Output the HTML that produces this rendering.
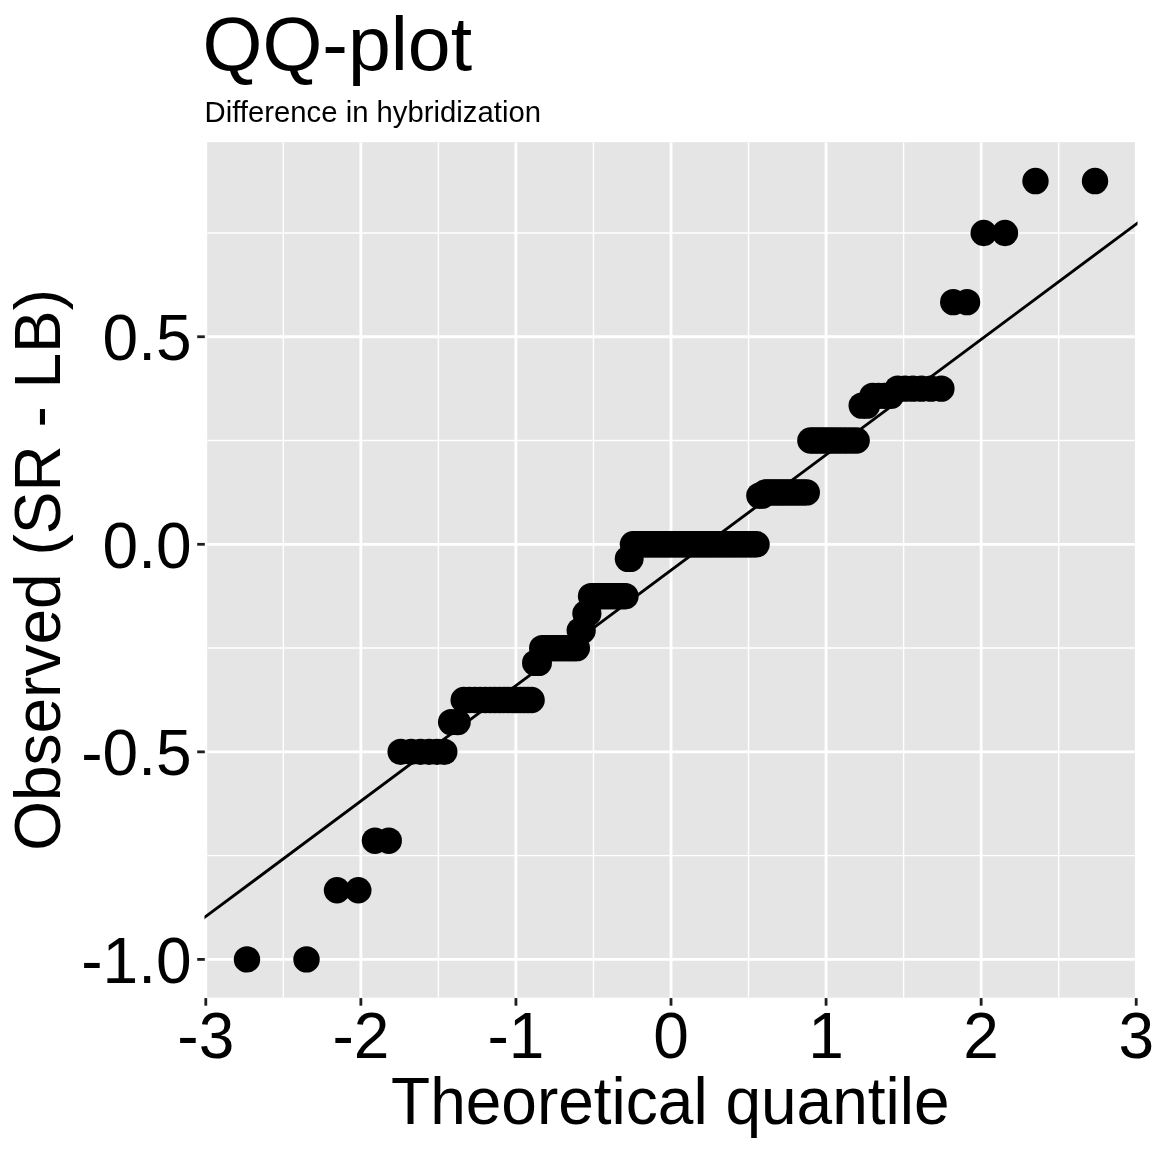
<!DOCTYPE html>
<html><head><meta charset="utf-8"><title>QQ-plot</title>
<style>
html,body{margin:0;padding:0;background:#FFFFFF;width:1152px;height:1152px;overflow:hidden;}
svg{display:block;-webkit-font-smoothing:antialiased;will-change:transform;}
text{font-variant-ligatures:none;font-kerning:normal;}
</style></head>
<body>
<svg width="1152" height="1152" viewBox="0 0 1152 1152"><defs><clipPath id="lc"><rect x="204.5" y="0" width="933" height="1152"/></clipPath><clipPath id="pc"><rect x="207.2" y="142.2" width="927.7" height="855.5"/></clipPath></defs><rect x="0" y="0" width="1152" height="1152" fill="#FFFFFF"/>
<rect x="207.2" y="142.2" width="927.7" height="855.5" fill="#E5E5E5"/>
<g clip-path="url(#pc)">
<line x1="283.33" y1="142.2" x2="283.33" y2="997.7" stroke="#FFFFFF" stroke-width="1.42"/>
<line x1="438.39" y1="142.2" x2="438.39" y2="997.7" stroke="#FFFFFF" stroke-width="1.42"/>
<line x1="593.47" y1="142.2" x2="593.47" y2="997.7" stroke="#FFFFFF" stroke-width="1.42"/>
<line x1="748.53" y1="142.2" x2="748.53" y2="997.7" stroke="#FFFFFF" stroke-width="1.42"/>
<line x1="903.61" y1="142.2" x2="903.61" y2="997.7" stroke="#FFFFFF" stroke-width="1.42"/>
<line x1="1058.67" y1="142.2" x2="1058.67" y2="997.7" stroke="#FFFFFF" stroke-width="1.42"/>
<line x1="207.2" y1="855.64" x2="1134.9" y2="855.64" stroke="#FFFFFF" stroke-width="1.42"/>
<line x1="207.2" y1="648.08" x2="1134.9" y2="648.08" stroke="#FFFFFF" stroke-width="1.42"/>
<line x1="207.2" y1="440.52" x2="1134.9" y2="440.52" stroke="#FFFFFF" stroke-width="1.42"/>
<line x1="207.2" y1="232.96" x2="1134.9" y2="232.96" stroke="#FFFFFF" stroke-width="1.42"/>
<line x1="360.86" y1="142.2" x2="360.86" y2="997.7" stroke="#FFFFFF" stroke-width="2.84"/>
<line x1="515.93" y1="142.2" x2="515.93" y2="997.7" stroke="#FFFFFF" stroke-width="2.84"/>
<line x1="671.00" y1="142.2" x2="671.00" y2="997.7" stroke="#FFFFFF" stroke-width="2.84"/>
<line x1="826.07" y1="142.2" x2="826.07" y2="997.7" stroke="#FFFFFF" stroke-width="2.84"/>
<line x1="981.14" y1="142.2" x2="981.14" y2="997.7" stroke="#FFFFFF" stroke-width="2.84"/>
<line x1="207.2" y1="959.42" x2="1134.9" y2="959.42" stroke="#FFFFFF" stroke-width="2.84"/>
<line x1="207.2" y1="751.86" x2="1134.9" y2="751.86" stroke="#FFFFFF" stroke-width="2.84"/>
<line x1="207.2" y1="544.30" x2="1134.9" y2="544.30" stroke="#FFFFFF" stroke-width="2.84"/>
<line x1="207.2" y1="336.74" x2="1134.9" y2="336.74" stroke="#FFFFFF" stroke-width="2.84"/>
</g>
<g fill="#000000"><circle cx="246.98" cy="959.42" r="13.2"/><circle cx="306.51" cy="959.42" r="13.2"/><circle cx="337.00" cy="890.22" r="13.2"/><circle cx="358.30" cy="890.22" r="13.2"/><circle cx="374.96" cy="840.70" r="13.2"/><circle cx="388.76" cy="840.70" r="13.2"/><circle cx="400.64" cy="751.86" r="13.2"/><circle cx="411.11" cy="751.86" r="13.2"/><circle cx="420.52" cy="751.86" r="13.2"/><circle cx="429.08" cy="751.86" r="13.2"/><circle cx="436.97" cy="751.86" r="13.2"/><circle cx="444.29" cy="751.86" r="13.2"/><circle cx="451.14" cy="722.10" r="13.2"/><circle cx="457.59" cy="722.10" r="13.2"/><circle cx="463.68" cy="699.97" r="13.2"/><circle cx="469.48" cy="699.97" r="13.2"/><circle cx="475.00" cy="699.97" r="13.2"/><circle cx="480.29" cy="699.97" r="13.2"/><circle cx="485.36" cy="699.97" r="13.2"/><circle cx="490.24" cy="699.97" r="13.2"/><circle cx="494.95" cy="699.97" r="13.2"/><circle cx="499.50" cy="699.97" r="13.2"/><circle cx="503.91" cy="699.97" r="13.2"/><circle cx="508.19" cy="699.97" r="13.2"/><circle cx="512.34" cy="699.97" r="13.2"/><circle cx="516.39" cy="699.97" r="13.2"/><circle cx="520.33" cy="699.97" r="13.2"/><circle cx="524.18" cy="699.97" r="13.2"/><circle cx="527.94" cy="699.97" r="13.2"/><circle cx="531.62" cy="699.97" r="13.2"/><circle cx="535.22" cy="662.90" r="13.2"/><circle cx="538.75" cy="662.90" r="13.2"/><circle cx="542.21" cy="648.08" r="13.2"/><circle cx="545.61" cy="648.08" r="13.2"/><circle cx="548.95" cy="648.08" r="13.2"/><circle cx="552.24" cy="648.08" r="13.2"/><circle cx="555.47" cy="648.08" r="13.2"/><circle cx="558.65" cy="648.08" r="13.2"/><circle cx="561.79" cy="648.08" r="13.2"/><circle cx="564.88" cy="648.08" r="13.2"/><circle cx="567.93" cy="648.08" r="13.2"/><circle cx="570.94" cy="648.08" r="13.2"/><circle cx="573.91" cy="648.08" r="13.2"/><circle cx="576.85" cy="648.08" r="13.2"/><circle cx="579.75" cy="630.60" r="13.2"/><circle cx="582.63" cy="630.60" r="13.2"/><circle cx="585.47" cy="613.50" r="13.2"/><circle cx="588.28" cy="613.50" r="13.2"/><circle cx="591.07" cy="596.19" r="13.2"/><circle cx="593.83" cy="596.19" r="13.2"/><circle cx="596.57" cy="596.19" r="13.2"/><circle cx="599.29" cy="596.19" r="13.2"/><circle cx="601.98" cy="596.19" r="13.2"/><circle cx="604.65" cy="596.19" r="13.2"/><circle cx="607.30" cy="596.19" r="13.2"/><circle cx="609.94" cy="596.19" r="13.2"/><circle cx="612.55" cy="596.19" r="13.2"/><circle cx="615.15" cy="596.19" r="13.2"/><circle cx="617.74" cy="596.19" r="13.2"/><circle cx="620.31" cy="596.19" r="13.2"/><circle cx="622.86" cy="596.19" r="13.2"/><circle cx="625.41" cy="596.19" r="13.2"/><circle cx="627.94" cy="558.83" r="13.2"/><circle cx="630.46" cy="558.83" r="13.2"/><circle cx="632.97" cy="544.30" r="13.2"/><circle cx="635.47" cy="544.30" r="13.2"/><circle cx="637.95" cy="544.30" r="13.2"/><circle cx="640.44" cy="544.30" r="13.2"/><circle cx="642.91" cy="544.30" r="13.2"/><circle cx="645.38" cy="544.30" r="13.2"/><circle cx="647.83" cy="544.30" r="13.2"/><circle cx="650.29" cy="544.30" r="13.2"/><circle cx="652.74" cy="544.30" r="13.2"/><circle cx="655.18" cy="544.30" r="13.2"/><circle cx="657.62" cy="544.30" r="13.2"/><circle cx="660.06" cy="544.30" r="13.2"/><circle cx="662.49" cy="544.30" r="13.2"/><circle cx="664.92" cy="544.30" r="13.2"/><circle cx="667.36" cy="544.30" r="13.2"/><circle cx="669.79" cy="544.30" r="13.2"/><circle cx="672.21" cy="544.30" r="13.2"/><circle cx="674.64" cy="544.30" r="13.2"/><circle cx="677.08" cy="544.30" r="13.2"/><circle cx="679.51" cy="544.30" r="13.2"/><circle cx="681.94" cy="544.30" r="13.2"/><circle cx="684.38" cy="544.30" r="13.2"/><circle cx="686.82" cy="544.30" r="13.2"/><circle cx="689.26" cy="544.30" r="13.2"/><circle cx="691.71" cy="544.30" r="13.2"/><circle cx="694.17" cy="544.30" r="13.2"/><circle cx="696.62" cy="544.30" r="13.2"/><circle cx="699.09" cy="544.30" r="13.2"/><circle cx="701.56" cy="544.30" r="13.2"/><circle cx="704.05" cy="544.30" r="13.2"/><circle cx="706.53" cy="544.30" r="13.2"/><circle cx="709.03" cy="544.30" r="13.2"/><circle cx="711.54" cy="544.30" r="13.2"/><circle cx="714.06" cy="544.30" r="13.2"/><circle cx="716.59" cy="544.30" r="13.2"/><circle cx="719.14" cy="544.30" r="13.2"/><circle cx="721.69" cy="544.30" r="13.2"/><circle cx="724.26" cy="544.30" r="13.2"/><circle cx="726.85" cy="544.30" r="13.2"/><circle cx="729.45" cy="544.30" r="13.2"/><circle cx="732.06" cy="544.30" r="13.2"/><circle cx="734.70" cy="544.30" r="13.2"/><circle cx="737.35" cy="544.30" r="13.2"/><circle cx="740.02" cy="544.30" r="13.2"/><circle cx="742.71" cy="544.30" r="13.2"/><circle cx="745.43" cy="544.30" r="13.2"/><circle cx="748.17" cy="544.30" r="13.2"/><circle cx="750.93" cy="544.30" r="13.2"/><circle cx="753.72" cy="544.30" r="13.2"/><circle cx="756.53" cy="544.30" r="13.2"/><circle cx="759.37" cy="495.61" r="13.2"/><circle cx="762.25" cy="495.61" r="13.2"/><circle cx="765.15" cy="492.41" r="13.2"/><circle cx="768.09" cy="492.41" r="13.2"/><circle cx="771.06" cy="492.41" r="13.2"/><circle cx="774.07" cy="492.41" r="13.2"/><circle cx="777.12" cy="492.41" r="13.2"/><circle cx="780.21" cy="492.41" r="13.2"/><circle cx="783.35" cy="492.41" r="13.2"/><circle cx="786.53" cy="492.41" r="13.2"/><circle cx="789.76" cy="492.41" r="13.2"/><circle cx="793.05" cy="492.41" r="13.2"/><circle cx="796.39" cy="492.41" r="13.2"/><circle cx="799.79" cy="492.41" r="13.2"/><circle cx="803.25" cy="492.41" r="13.2"/><circle cx="806.78" cy="492.41" r="13.2"/><circle cx="810.38" cy="440.52" r="13.2"/><circle cx="814.06" cy="440.52" r="13.2"/><circle cx="817.82" cy="440.52" r="13.2"/><circle cx="821.67" cy="440.52" r="13.2"/><circle cx="825.61" cy="440.52" r="13.2"/><circle cx="829.66" cy="440.52" r="13.2"/><circle cx="833.81" cy="440.52" r="13.2"/><circle cx="838.09" cy="440.52" r="13.2"/><circle cx="842.50" cy="440.52" r="13.2"/><circle cx="847.05" cy="440.52" r="13.2"/><circle cx="851.76" cy="440.52" r="13.2"/><circle cx="856.64" cy="440.52" r="13.2"/><circle cx="861.71" cy="405.61" r="13.2"/><circle cx="867.00" cy="405.61" r="13.2"/><circle cx="872.52" cy="395.85" r="13.2"/><circle cx="878.32" cy="395.85" r="13.2"/><circle cx="884.41" cy="395.85" r="13.2"/><circle cx="890.86" cy="395.85" r="13.2"/><circle cx="897.71" cy="388.63" r="13.2"/><circle cx="905.03" cy="388.63" r="13.2"/><circle cx="912.92" cy="388.63" r="13.2"/><circle cx="921.48" cy="388.63" r="13.2"/><circle cx="930.89" cy="388.63" r="13.2"/><circle cx="941.36" cy="388.63" r="13.2"/><circle cx="953.24" cy="302.16" r="13.2"/><circle cx="967.04" cy="302.16" r="13.2"/><circle cx="983.70" cy="232.96" r="13.2"/><circle cx="1005.00" cy="232.96" r="13.2"/><circle cx="1035.49" cy="181.07" r="13.2"/><circle cx="1095.02" cy="181.07" r="13.2"/></g>
<g clip-path="url(#lc)"><line x1="199.5" y1="921.13" x2="1142.5" y2="219.37" stroke="#000000" stroke-width="2.9"/></g>
<g stroke="#1E1E1E" stroke-width="2.8"><line x1="197.2" y1="959.42" x2="204.8" y2="959.42"/><line x1="197.2" y1="751.86" x2="204.8" y2="751.86"/><line x1="197.2" y1="544.30" x2="204.8" y2="544.30"/><line x1="197.2" y1="336.74" x2="204.8" y2="336.74"/><line x1="205.79" y1="998.1" x2="205.79" y2="1005.7"/><line x1="360.86" y1="998.1" x2="360.86" y2="1005.7"/><line x1="515.93" y1="998.1" x2="515.93" y2="1005.7"/><line x1="671.00" y1="998.1" x2="671.00" y2="1005.7"/><line x1="826.07" y1="998.1" x2="826.07" y2="1005.7"/><line x1="981.14" y1="998.1" x2="981.14" y2="1005.7"/><line x1="1136.21" y1="998.1" x2="1136.21" y2="1005.7"/></g>
<g font-family="'Liberation Sans', Arial, sans-serif" font-size="64" fill="#000000"><text x="191.5" y="982.6" text-anchor="end">-1.0</text><text x="191.5" y="775.1" text-anchor="end">-0.5</text><text x="191.5" y="567.5" text-anchor="end">0.0</text><text x="191.5" y="359.9" text-anchor="end">0.5</text><text x="205.79" y="1057.9" text-anchor="middle">-3</text><text x="360.86" y="1057.9" text-anchor="middle">-2</text><text x="515.93" y="1057.9" text-anchor="middle">-1</text><text x="671.00" y="1057.9" text-anchor="middle">0</text><text x="826.07" y="1057.9" text-anchor="middle">1</text><text x="981.14" y="1057.9" text-anchor="middle">2</text><text x="1136.21" y="1057.9" text-anchor="middle">3</text></g>
<text font-family="'Liberation Sans', Arial, sans-serif" font-size="64" transform="translate(670.3,1124.0) scale(1,1.03)" text-anchor="middle" fill="#000000">Theoretical quantile</text>
<text font-family="'Liberation Sans', Arial, sans-serif" font-size="64" transform="translate(60,569.9) rotate(-90)" text-anchor="middle" fill="#000000">Observed (SR - LB)</text>
<text font-family="'Liberation Sans', Arial, sans-serif" font-size="77" transform="translate(202.5,70.3) scale(1,0.975)" fill="#000000">QQ-plot</text>
<text font-family="'Liberation Sans', Arial, sans-serif" font-size="29.3" transform="translate(204.6,121.7) scale(1,1.035)" fill="#000000">Difference in hybridization</text></svg>
</body></html>
